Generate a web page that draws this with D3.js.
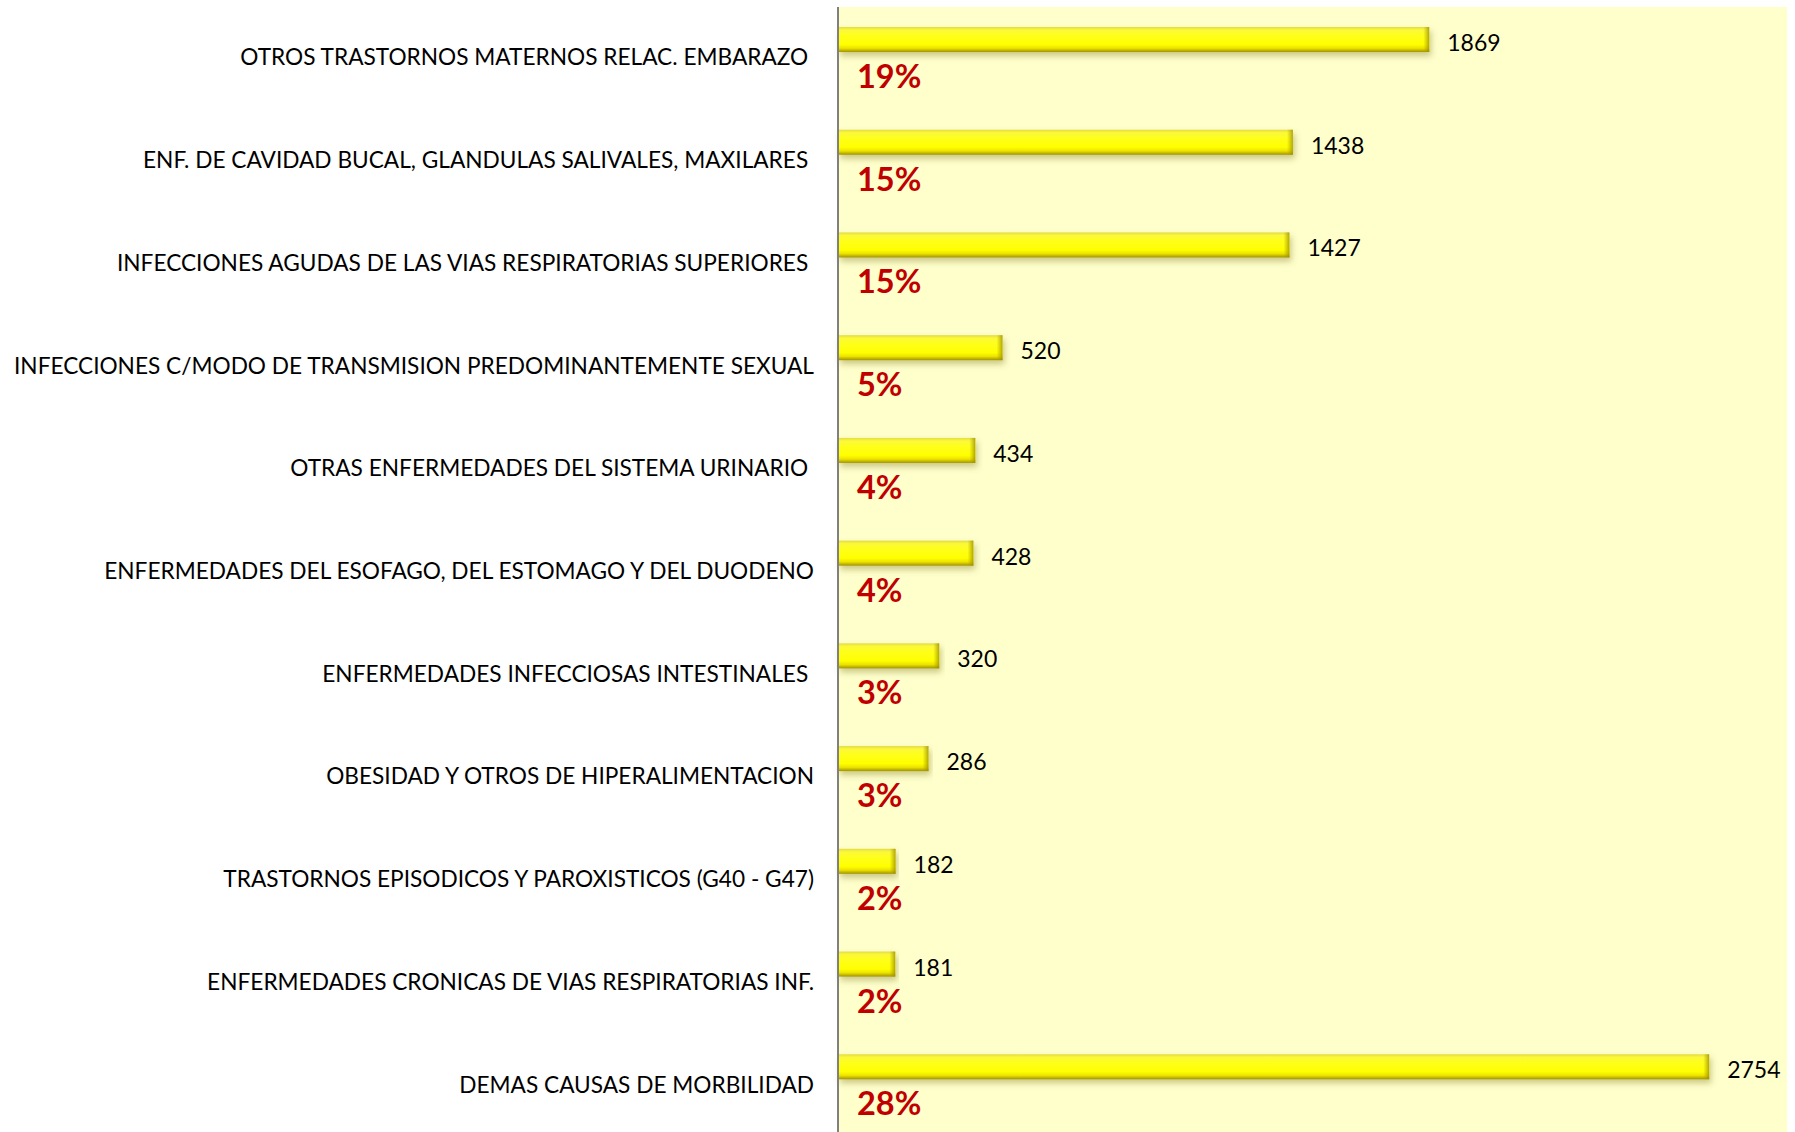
<!DOCTYPE html>
<html>
<head>
<meta charset="utf-8">
<script src="https://cdn.jsdelivr.net/npm/d3@7"></script>
<style>
  body { margin: 0; background: #fff; }
  svg { display: block; }
  text { font-family: Lato, "Noto Sans", sans-serif; }
</style>
</head>
<body>
<div id="chart"></div>
<script>
// morbilidad chart

var categories = [
  "OTROS TRASTORNOS MATERNOS RELAC. EMBARAZO ",
  "ENF. DE CAVIDAD BUCAL, GLANDULAS SALIVALES, MAXILARES ",
  "INFECCIONES AGUDAS DE LAS VIAS RESPIRATORIAS SUPERIORES ",
  "INFECCIONES C/MODO DE TRANSMISION PREDOMINANTEMENTE SEXUAL",
  "OTRAS ENFERMEDADES DEL SISTEMA URINARIO ",
  "ENFERMEDADES DEL ESOFAGO, DEL ESTOMAGO Y DEL DUODENO",
  "ENFERMEDADES INFECCIOSAS INTESTINALES ",
  "OBESIDAD Y OTROS DE HIPERALIMENTACION",
  "TRASTORNOS EPISODICOS Y PAROXISTICOS (G40 - G47)",
  "ENFERMEDADES CRONICAS DE VIAS RESPIRATORIAS INF.",
  "DEMAS CAUSAS DE MORBILIDAD"
];
var values = [1869, 1438, 1427, 520, 434, 428, 320, 286, 182, 181, 2754];
var percents = ["19%", "15%", "15%", "5%", "4%", "4%", "3%", "3%", "2%", "2%", "28%"];

var width = 1795,
    height = 1132,
    plotLeft = 838,
    plotRight = 1787,
    plotTop = 7,
    plotBottom = 1132;

var svg = d3.select("#chart").append("svg")
  .attr("width", width)
  .attr("height", height);

var defs = svg.append("defs");

var grad = defs.append("linearGradient")
  .attr("id", "barGrad")
  .attr("x1", 0).attr("y1", 0).attr("x2", 0).attr("y2", 1);
[["0%", "#e2dc40"], ["12%", "#fbf83a"], ["35%", "#ffff1a"], ["70%", "#ffff00"],
 ["85%", "#ece200"], ["100%", "#a09300"]].forEach(function(s) {
  grad.append("stop").attr("offset", s[0]).attr("stop-color", s[1]);
});

var endGrad = defs.append("linearGradient")
  .attr("id", "endGrad")
  .attr("x1", 0).attr("y1", 0).attr("x2", 1).attr("y2", 0);
endGrad.append("stop").attr("offset", "0%").attr("stop-color", "#b0a200").attr("stop-opacity", 0);
endGrad.append("stop").attr("offset", "100%").attr("stop-color", "#9c8f00").attr("stop-opacity", 0.8);

var shadow = defs.append("filter")
  .attr("id", "shadow")
  .attr("x", "-5%").attr("y", "-40%").attr("width", "110%").attr("height", "200%");
shadow.append("feDropShadow")
  .attr("dx", 2).attr("dy", 4)
  .attr("stdDeviation", 3)
  .attr("flood-color", "#6b6200")
  .attr("flood-opacity", 0.35);

var x = d3.scaleLinear()
  .domain([0, 3000])
  .range([plotLeft, plotRight]);

// bands run a little past the bottom edge, as in the original
var y = d3.scaleBand()
  .domain(categories)
  .range([8, 1138])
  .padding(0);

// plot area
svg.append("rect")
  .attr("x", plotLeft)
  .attr("y", plotTop)
  .attr("width", plotRight - plotLeft)
  .attr("height", plotBottom - plotTop)
  .attr("fill", "#ffffcc");

var rows = svg.selectAll("g.row")
  .data(categories.map(function(c, i) {
    return { cat: c, value: values[i], pct: percents[i] };
  }))
  .enter().append("g")
  .attr("class", "row")
  .attr("transform", function(d) { return "translate(0," + y(d.cat) + ")"; });

var barTop = 19, barH = 25;

rows.append("rect")
  .attr("x", x(0))
  .attr("y", barTop)
  .attr("width", function(d) { return x(d.value) - x(0); })
  .attr("height", barH)
  .attr("fill", "url(#barGrad)")
  .attr("filter", "url(#shadow)");

rows.append("rect")
  .attr("x", function(d) { return x(d.value) - 6; })
  .attr("y", barTop)
  .attr("width", 6)
  .attr("height", barH)
  .attr("fill", "url(#endGrad)");

rows.append("text")
  .attr("x", function(d) { return x(d.value) + 18; })
  .attr("y", 43)
  .attr("font-size", 23)
  .attr("fill", "#000")
  .text(function(d) { return d.value; });

rows.append("text")
  .attr("x", x(0) + 19)
  .attr("y", 80)
  .attr("font-size", 32.5)
  .attr("font-weight", "bold")
  .attr("fill", "#c00000")
  .text(function(d) { return d.pct; });

var labels = rows.append("text")
  .attr("class", "cat")
  .attr("x", 814)
  .attr("y", y.bandwidth() / 2 + 6)
  .attr("text-anchor", "end")
  .attr("font-size", 23.5)
  .attr("fill", "#000")
  .style("white-space", "pre")
  .text(function(d) { return d.cat; });

// squeeze labels to the narrow look of the original font
var longest = d3.max(labels.nodes(), function(n) { return n.getComputedTextLength(); });
var k = 800 / longest;
labels.each(function() {
  var len = this.getComputedTextLength();
  d3.select(this).attr("textLength", len * k).attr("lengthAdjust", "spacingAndGlyphs");
});

// axis line
svg.append("line")
  .attr("x1", plotLeft).attr("x2", plotLeft)
  .attr("y1", plotTop).attr("y2", plotBottom)
  .attr("stroke", "#808080")
  .attr("stroke-width", 2);
</script>
</body>
</html>
